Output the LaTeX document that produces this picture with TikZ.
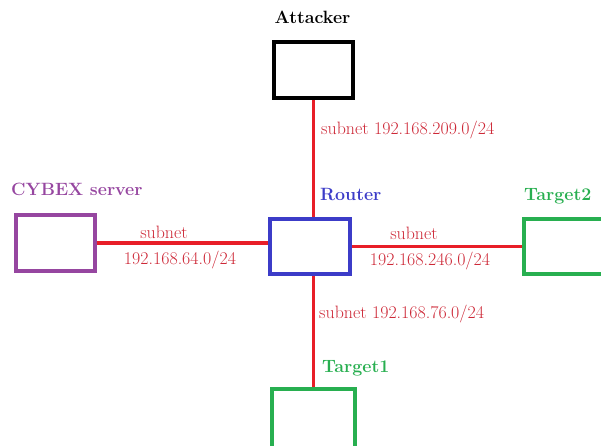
\documentclass[tikz,border=0pt]{standalone}
\begin{document}
\begin{tikzpicture}[x=1pt,y=-1pt,
  box/.style={draw,line width=4pt,fill=white,minimum width=79pt,minimum height=56pt,inner sep=0pt},
  link/.style={draw=linkred,line width=3.5pt},
  lbl/.style={inner sep=0pt,font=\fontsize{17.8}{20}\selectfont\bfseries},
  sub/.style={inner sep=0pt,text=subred,font=\fontsize{17.9}{20}\selectfont}]
\definecolor{linkred}{RGB}{232,30,40}
\definecolor{subred}{RGB}{205,40,55}
\definecolor{cpurple}{RGB}{150,70,160}
\definecolor{cblue}{RGB}{60,60,200}
\definecolor{cgreen}{RGB}{40,175,80}
\useasboundingbox (0,0) rectangle (601,445);
\clip (0,0) rectangle (601,445);
% boxes
\node[box,draw=black] (attacker) at (313.5,70) {};
\node[box,draw=cblue,minimum width=80pt,minimum height=55pt] (router) at (310,246.5) {};
\node[box,draw=cpurple,minimum width=79pt,minimum height=56pt] (cybex) at (55,243) {};
\node[box,draw=cgreen,minimum width=84pt,minimum height=55pt] (target2) at (566,246.5) {};
\node[box,draw=cgreen,minimum width=83pt,minimum height=60pt] (target1) at (313.5,419) {};
% links
\draw[link] (attacker.south) -- (attacker.south |- router.north);
\draw[link] (target1.north) -- (target1.north |- router.south);
\draw[link] (cybex.east) -- (cybex.east -| router.west);
\draw[link] (target2.west) -- (target2.west -| router.east);
% labels
\node[lbl] (tAtt) at (312.5,17) {Attacker};
\node[lbl,text=cpurple,anchor=west] (tCyb) at (11,189) {CYBEX server};
\node[lbl,text=cblue,anchor=west] (tRou) at (320,194) {Router};
\node[lbl,text=cgreen,anchor=west] (tT2) at (524,196) {Target2};
\node[lbl,text=cgreen,anchor=west] (tT1) at (322,368) {Target1};
\node[sub,anchor=west] (s209) at (321,130) {subnet 192.168.209.0/24};
\node[sub] (s64a) at (164,232) {subnet};
\node[sub] (s64b) at (180,260) {192.168.64.0/24};
\node[sub] (s246a) at (414,233) {subnet};
\node[sub] (s246b) at (430,261) {192.168.246.0/24};
\node[sub,anchor=west] (s76) at (319,314) {subnet 192.168.76.0/24};
\end{tikzpicture}
\end{document}
